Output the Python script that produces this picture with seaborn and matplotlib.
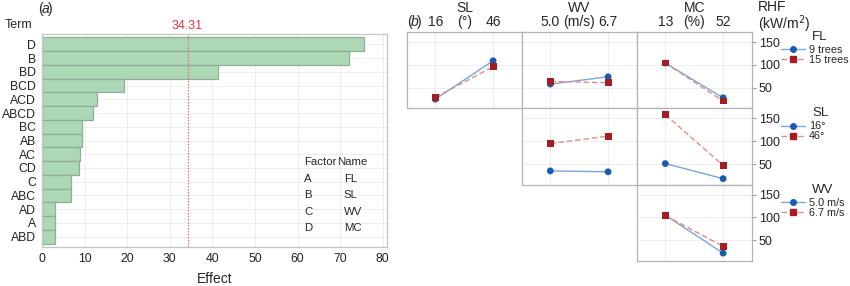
import matplotlib
matplotlib.use("Agg")
import matplotlib.pyplot as plt
from matplotlib.lines import Line2D
import seaborn as sns
import pandas as pd

sns.set_style("white")
plt.rcParams["font.family"] = ["Liberation Sans", "DejaVu Sans"]

# panel (a): effects of terms
terms = ["D", "B", "BD", "BCD", "ACD", "ABCD", "BC", "AB", "AC", "CD", "C", "ABC", "AD", "A", "ABD"]
effects = [75.6, 72.0, 41.4, 19.3, 13.0, 12.0, 9.4, 9.3, 9.0, 8.6, 6.8, 6.8, 3.1, 3.0, 3.0]
threshold = 34.31
factor_codes = ["A", "B", "C", "D"]
factor_names = ["FL", "SL", "WV", "MC"]

# panel (b): interaction means of RHF (kW/m2)
x_factors = ["SL", "WV", "MC"]
x_units = ["(°)", "(m/s)", "(%)"]
x_levels = [["16", "46"], ["5.0", "6.7"], ["13", "52"]]
trace_factors = ["FL", "SL", "WV"]
trace_labels = [["9 trees", "15 trees"], ["16°", "46°"], ["5.0 m/s", "6.7 m/s"]]
# each: [low trace level at (low x, high x)], [high trace level ...]
rhf_fl_sl = [[25, 109], [29, 96]]
rhf_fl_wv = [[58, 74], [64, 61]]
rhf_fl_mc = [[104, 28], [104, 21]]
rhf_sl_wv = [[35, 33], [95, 111]]
rhf_sl_mc = [[51, 18], [158, 47]]
rhf_wv_mc = [[105, 22], [104, 37]]
cells = {(0, 0): rhf_fl_sl, (0, 1): rhf_fl_wv, (0, 2): rhf_fl_mc,
         (1, 1): rhf_sl_wv, (1, 2): rhf_sl_mc, (2, 2): rhf_wv_mc}

W, H = 850, 286
fig = plt.figure(figsize=(W / 100, H / 100), dpi=100)


def px_axes(l, t, r, b):
    return fig.add_axes([l / W, 1 - b / H, (r - l) / W, (b - t) / H])


def ftext(x, y, s, **kw):
    # text placed by pixel position from the top-left corner
    kw.setdefault("va", "center")
    kw.setdefault("fontsize", 10)
    return fig.text(x / W, 1 - y / H, s, **kw)


bar_fill = "#acd8b6"
bar_edge = "#8fae98"
frame = "#c4c4c4"
grid_c = "#eeeeee"

# ---- panel (a)
ax = px_axes(42, 34, 387, 247)
df = pd.DataFrame({"term": terms, "effect": effects})
sns.barplot(data=df, x="effect", y="term", orient="h", color=bar_fill, saturation=1,
            edgecolor=bar_edge, linewidth=0.9, width=1.0, ax=ax, zorder=2)
ax.set_xlim(0, 81)
ax.set_ylim(14.75, -0.75)
ax.set_xticks(range(0, 81, 10))
ax.grid(True, color=grid_c, lw=0.8, zorder=0)
ax.set_axisbelow(True)
for s in ax.spines.values():
    s.set_color(frame)
    s.set_linewidth(0.9)
ax.tick_params(axis="both", length=3, color="#999999", labelsize=8.8, pad=1.5, labelcolor="#222222")
ax.set_xlabel("Effect", fontsize=10, labelpad=5)
ax.set_ylabel("")
ax.axvline(threshold, color="#ec6a72", ls=(0, (1.2, 1.2)), lw=0.9, zorder=3)
ftext(42 + threshold * 4.24, 26, f"{threshold:.2f}", ha="center", color="#e8323c", fontsize=9)
ftext(18.5, 25, "Term", ha="center", fontsize=9)
ftext(38, 9, "(", ha="left")
ftext(41.5, 9, "a", ha="left", style="italic")
ftext(48, 9, ")", ha="left")

ax.text(61.5, 8.58, "Factor", ha="left", va="center", fontsize=8.2)
ax.text(69.4, 8.58, "Name", ha="left", va="center", fontsize=8.2)
for i, (c, n) in enumerate(zip(factor_codes, factor_names)):
    y = 9.77 + i * 1.2
    ax.text(61.5, y, c, ha="left", va="center", fontsize=8.2)
    ax.text(70.9, y, n, ha="left", va="center", fontsize=8.2)

# ---- panel (b)
line_cols = ["#79a6dc", "#e58b8b"]
mark_cols = ["#1a5bb0", "#a51c22"]
col_l = [407, 522, 637]
col_w = 115
row_t = [32, 108.3, 184.6]
row_h = 76.3

for (r, c), vals in cells.items():
    a = px_axes(col_l[c], row_t[r], col_l[c] + col_w, row_t[r] + row_h)
    lvl = trace_labels[r]
    d = pd.DataFrame({
        "x": [0, 1, 0, 1],
        "rhf": vals[0] + vals[1],
        "trace": [lvl[0], lvl[0], lvl[1], lvl[1]],
    })
    sns.lineplot(data=d, x="x", y="rhf", hue="trace", style="trace",
                 palette=line_cols, dashes=["", (4, 2)], lw=1.0, legend=False, ax=a)
    sns.scatterplot(data=d, x="x", y="rhf", hue="trace", style="trace",
                    palette=mark_cols, markers=["o", "s"], s=24, linewidth=0,
                    legend=False, ax=a, zorder=3)
    a.set_xlim(-0.49, 1.5)
    a.set_ylim(5, 172)
    a.set_xticks([0, 1])
    a.set_yticks([50, 100, 150])
    a.grid(True, color=grid_c, lw=0.8)
    a.set_axisbelow(True)
    a.set_xlabel("")
    a.set_ylabel("")
    for s in a.spines.values():
        s.set_color("#b4b4b4")
        s.set_linewidth(0.9)
    a.tick_params(axis="x", length=0, labelbottom=False)
    if r == 0:
        cx = col_l[c] + col_w / 2
        for k in range(2):
            xp = col_l[c] + (k + 0.49) / 1.99 * col_w
            ftext(xp, 22, x_levels[c][k], ha="center")
        ftext(cx, 22, x_units[c], ha="center")
        ftext(cx, 7.5, x_factors[c], ha="center")
    if c == 2:
        a.yaxis.tick_right()
        a.tick_params(axis="y", length=3, color="#999999", labelsize=9, pad=2, labelcolor="#222222")
        handles = [Line2D([], [], color=line_cols[0], lw=1.0, marker="o", ms=4,
                          mfc=mark_cols[0], mec=mark_cols[0]),
                   Line2D([], [], color=line_cols[1], lw=1.0, ls=(0, (4, 2)), marker="s",
                          ms=4, mfc=mark_cols[1], mec=mark_cols[1])]
        a.legend(handles, lvl, loc="upper left",
                 bbox_to_anchor=(781 / W, 1 - (row_t[r] + 13) / H),
                 bbox_transform=fig.transFigure, frameon=False, fontsize=7.8,
                 handlelength=2.2, handletextpad=0.4, labelspacing=0.0,
                 borderpad=0, borderaxespad=0)
        ftext(812, row_t[r] + 5, trace_factors[r], ha="left", fontsize=9.5)
    else:
        a.tick_params(axis="y", length=0, labelleft=False)

ftext(407, 22, "(", ha="left")
ftext(410.5, 22, "b", ha="left", style="italic")
ftext(417, 22, ")", ha="left")
ftext(758, 7, "RHF", ha="left")
ftext(758, 24, "(kW/m$^2$)", ha="left")

fig.savefig("out.png", dpi=100)
